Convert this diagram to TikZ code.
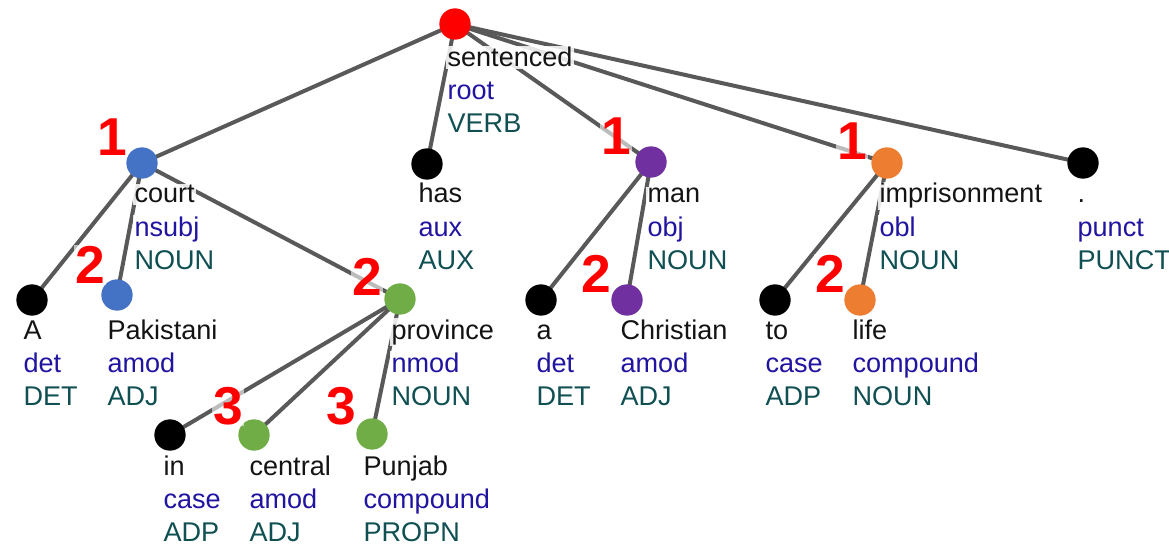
\documentclass[tikz,border=0pt]{standalone}
\usepackage{fontspec}
\setmainfont{Liberation Sans}
\usetikzlibrary{backgrounds}
\definecolor{edgec}{HTML}{595959}
\definecolor{relc}{RGB}{32,20,160}
\definecolor{posc}{RGB}{16,80,82}
\definecolor{cred}{HTML}{FF0000}
\definecolor{cblue}{HTML}{4472C4}
\definecolor{cgreen}{HTML}{70AD47}
\definecolor{cpurple}{HTML}{7030A0}
\definecolor{corange}{HTML}{ED7D31}
\tikzset{
  dot/.style={circle, inner sep=0pt, minimum size=23.5pt},
  edgeline/.style={draw=edgec, line width=3pt},
  lbl/.style={anchor=base west, inner sep=1pt, fill=white, fill opacity=0.85, text opacity=1, font=\fontsize{20.3}{24}\selectfont},
  wordtxt/.style={lbl, text=black!92},
  reltxt/.style={lbl, text=relc},
  postxt/.style={lbl, text=posc},
  num/.style={text=red, font=\fontsize{40}{42}\selectfont\bfseries, inner sep=1pt, fill=white, fill opacity=0.6, text opacity=1}
}
\newcommand\tokdot[4]{\node[dot, fill=#4] (#1) at (#2,#3) {};}
\newcommand\toklab[6]{%
  \node[wordtxt] (#1w) at (#2,#3) {#4};
  \node[reltxt] (#1r) at (#2,#3+33) {#5};
  \node[postxt] (#1p) at (#2,#3+66) {#6};}
\begin{document}
\begin{tikzpicture}[x=0.75pt, y=-0.75pt]
\useasboundingbox (0,0) rectangle (1169,545);
% dots
\tokdot{root}{455}{24}{cred}
\tokdot{court}{142}{163}{cblue}
\tokdot{has}{427}{164}{black}
\tokdot{man}{651}{162}{cpurple}
\tokdot{impr}{887}{163}{corange}
\tokdot{punct}{1083}{163}{black}
\tokdot{A}{32}{300}{black}
\tokdot{pak}{117}{295}{cblue}
\tokdot{prov}{400}{299}{cgreen}
\tokdot{a}{541}{300}{black}
\tokdot{chr}{627}{300}{cpurple}
\tokdot{to}{775}{300}{black}
\tokdot{life}{860}{300}{corange}
\tokdot{in}{170}{435}{black}
\tokdot{cen}{254}{435}{cgreen}
\tokdot{pun}{372}{434}{cgreen}
% edges
\begin{scope}[on background layer]
\fill[white] (0,0) rectangle (1169,545);
\foreach \p/\c in {root/court, root/has, root/man, root/impr, root/punct,
  court/A, court/pak, court/prov, prov/in, prov/cen, prov/pun,
  man/a, man/chr, impr/to, impr/life}
  \draw[edgeline] (\p.center) -- (\c.center);
\end{scope}
% labels
\toklab{root}{446}{67}{sentenced}{root}{VERB}
\toklab{court}{133}{203}{court}{nsubj}{NOUN}
\toklab{has}{417}{203}{has}{aux}{AUX}
\toklab{man}{646}{203}{man}{obj}{NOUN}
\toklab{impr}{878}{203}{imprisonment}{obl}{NOUN}
\toklab{punct}{1076}{203}{.}{punct}{PUNCT}
\toklab{A}{22}{339}{A}{det}{DET}
\toklab{pak}{106}{339}{Pakistani}{amod}{ADJ}
\toklab{prov}{390}{339}{province}{nmod}{NOUN}
\toklab{a}{535}{339}{a}{det}{DET}
\toklab{chr}{619}{339}{Christian}{amod}{ADJ}
\toklab{to}{764}{339}{to}{case}{ADP}
\toklab{life}{851}{339}{life}{compound}{NOUN}
\toklab{in}{162}{475}{in}{case}{ADP}
\toklab{cen}{248}{475}{central}{amod}{ADJ}
\toklab{pun}{362}{475}{Punjab}{compound}{PROPN}
% level numbers
\node[num] (n1) at (112,137) {1};
\node[num] (n2) at (90,265) {2};
\node[num] (n3) at (367,277) {2};
\node[num] (n4) at (228,406) {3};
\node[num] (n5) at (341,406) {3};
\node[num] (n6) at (616,136) {1};
\node[num] (n7) at (596,274) {2};
\node[num] (n8) at (852,141) {1};
\node[num] (n9) at (830,274) {2};
\end{tikzpicture}
\end{document}
